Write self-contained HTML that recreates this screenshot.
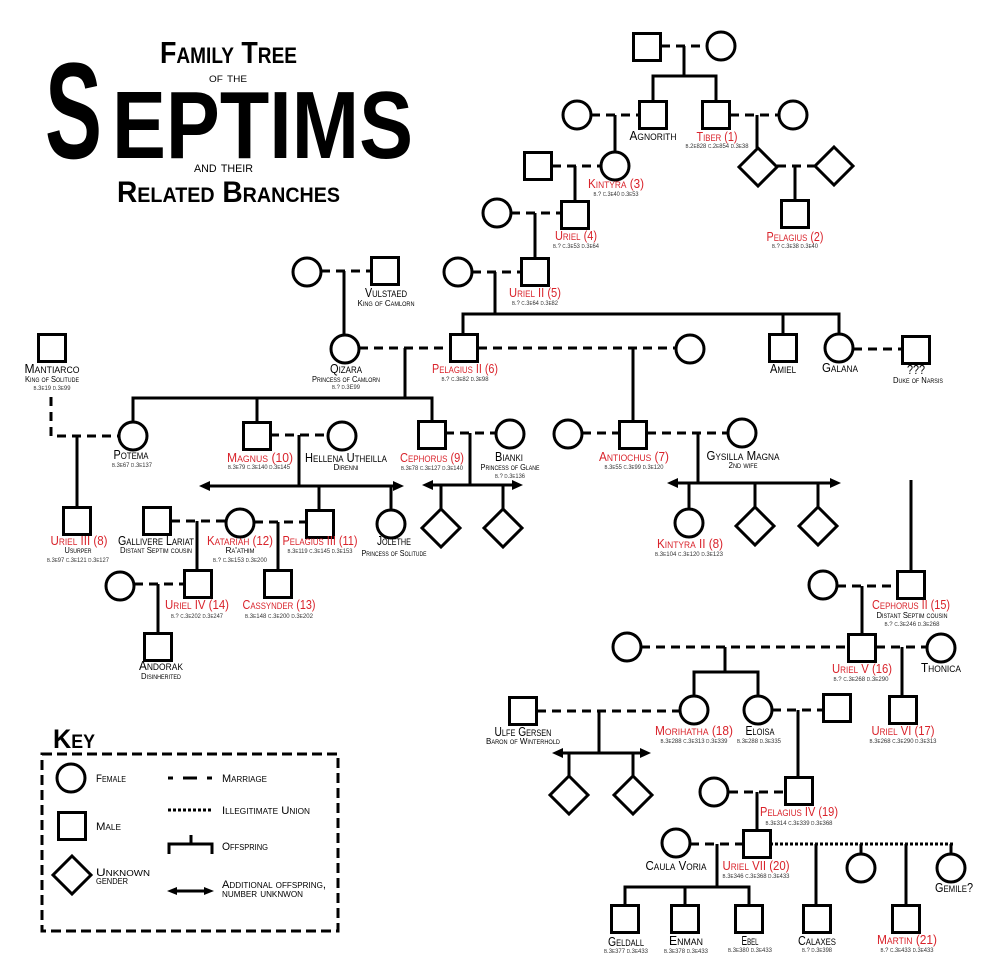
<!DOCTYPE html>
<html><head><meta charset="utf-8"><style>
html,body{margin:0;padding:0;background:#fff;}
svg{display:block;}
.s{fill:#fff;stroke:#000;stroke-width:3;}
.l{fill:none;stroke:#000;stroke-width:3;}
.m{fill:none;stroke:#000;stroke-width:3;stroke-dasharray:9 6;}
.dt{fill:none;stroke:#000;stroke-width:3;stroke-dasharray:3 2;}
text{font-family:"Liberation Sans",sans-serif;font-variant:small-caps;fill:#000;}
.n{font-size:12.5px;text-anchor:middle;}
.r{fill:#d9232b;}
.d{font-size:6.5px;text-anchor:middle;fill:#333;}
.t{font-size:8.5px;text-anchor:middle;}
.k{font-size:11px;}
</style></head><body>
<svg width="1000" height="969" viewBox="0 0 1000 969" xmlns="http://www.w3.org/2000/svg">
<rect width="1000" height="969" fill="#fff"/>

<!-- Title -->
<text x="160" y="63" font-size="31" font-weight="bold" textLength="137" lengthAdjust="spacingAndGlyphs">Family Tree</text>
<text x="209" y="82" font-size="13.5" textLength="38" lengthAdjust="spacingAndGlyphs">of the</text>
<text x="45" y="158" font-size="137" font-weight="bold" textLength="57" lengthAdjust="spacingAndGlyphs">S</text>
<text x="112" y="158" font-size="96" font-weight="bold" textLength="301" lengthAdjust="spacingAndGlyphs">EPTIMS</text>
<text x="194" y="172" font-size="15.5" textLength="59" lengthAdjust="spacingAndGlyphs">and their</text>
<text x="117" y="202" font-size="30" font-weight="bold" textLength="223" lengthAdjust="spacingAndGlyphs">Related Branches</text>

<!-- Marriage lines -->
<g class="m">
<path d="M661 46H707"/>
<path d="M591 115H639"/>
<path d="M730 115H779"/>
<path d="M552 166H601"/>
<path d="M511 213H562"/>
<path d="M777 166H815"/>
<path d="M321 271H371"/>
<path d="M472 272H521"/>
<path d="M359 348H451"/>
<path d="M478 348H676"/>
<path d="M853 349H902"/>
<path d="M51 397V436H119"/>
<path d="M270 435H328"/>
<path d="M445 433H496"/>
<path d="M582 433H619"/>
<path d="M647 433H728"/>
<path d="M171 521H226"/>
<path d="M254 522H306"/>
<path d="M134 584H184"/>
<path d="M837 586H898"/>
<path d="M641 647H848"/>
<path d="M876 647H927"/>
<path d="M537 711H680"/>
<path d="M772 710H823"/>
<path d="M729 792H786"/>
<path d="M690 844H743"/>
</g>
<path class="dt" d="M770 844H953"/>
<path class="l" d="M861 844V854M951 844V854"/>

<!-- Offspring lines -->
<g class="l">
<path d="M684 46V76M653 101V76H716V101"/>
<path d="M615 115V152"/>
<path d="M575 166V201"/>
<path d="M535 213V258"/>
<path d="M757 115V148"/>
<path d="M795 166V200"/>
<path d="M344 271V335"/>
<path d="M495 272V314M463 334V314H839V334M783 314V334"/>
<path d="M405 348V398M133 422V398H432V421M257 398V422"/>
<path d="M633 348V421"/>
<path d="M77 436V507"/>
<path d="M299 435V486M205 486H398M319 486V510M391 486V510"/>
<path d="M470 433V485M428 485H517M441 485V509M503 485V509"/>
<path d="M698 433V483M673 483H835M689 483V509M755 483V507M818 483V507"/>
<path d="M197 521V570"/>
<path d="M278 522V570"/>
<path d="M158 584V633"/>
<path d="M911 480V571"/>
<path d="M862 586V634"/>
<path d="M725 647V672M694 696V672H758V696"/>
<path d="M902 647V696"/>
<path d="M599 711V753M558 753H645M569 753V776M633 753V776"/>
<path d="M798 710V777"/>
<path d="M757 792V830"/>
<path d="M717 844V887M625 905V887H749V905M685 887V905"/>
<path d="M816 844V905M906 844V905"/>
</g>
<!-- Arrowheads -->
<g fill="#000">
<polygon points="199,486 210,481 210,491"/><polygon points="404,486 393,481 393,491"/>
<polygon points="422,485 433,480 433,490"/><polygon points="523,485 512,480 512,490"/>
<polygon points="667,483 678,478 678,488"/><polygon points="841,483 830,478 830,488"/>
<polygon points="552,753 563,748 563,758"/><polygon points="651,753 640,748 640,758"/>
</g>

<!-- Squares -->
<g class="s">
<rect x="633.5" y="33.5" width="27" height="27"/>
<rect x="639.5" y="101.5" width="27" height="27"/>
<rect x="702.5" y="101.5" width="27" height="27"/>
<rect x="524.5" y="152.5" width="27" height="27"/>
<rect x="561.5" y="201.5" width="27" height="27"/>
<rect x="781.5" y="200.5" width="27" height="27"/>
<rect x="371.5" y="257.5" width="27" height="27"/>
<rect x="521.5" y="258.5" width="27" height="27"/>
<rect x="450.5" y="334.5" width="27" height="27"/>
<rect x="769.5" y="334.5" width="27" height="27"/>
<rect x="902.5" y="336.5" width="27" height="27"/>
<rect x="38.5" y="334.5" width="27" height="27"/>
<rect x="243.5" y="422.5" width="27" height="27"/>
<rect x="418.5" y="421.5" width="27" height="27"/>
<rect x="619.5" y="421.5" width="27" height="27"/>
<rect x="63.5" y="507.5" width="27" height="27"/>
<rect x="143.5" y="507.5" width="27" height="27"/>
<rect x="306.5" y="510.5" width="27" height="27"/>
<rect x="184.5" y="570.5" width="27" height="27"/>
<rect x="264.5" y="570.5" width="27" height="27"/>
<rect x="144.5" y="633.5" width="27" height="27"/>
<rect x="897.5" y="571.5" width="27" height="27"/>
<rect x="848.5" y="634.5" width="27" height="27"/>
<rect x="823.5" y="694.5" width="27" height="27"/>
<rect x="889.5" y="696.5" width="27" height="27"/>
<rect x="509.5" y="697.5" width="27" height="27"/>
<rect x="785.5" y="777.5" width="27" height="27"/>
<rect x="743.5" y="830.5" width="27" height="27"/>
<rect x="611.5" y="905.5" width="27" height="27"/>
<rect x="671.5" y="905.5" width="27" height="27"/>
<rect x="735.5" y="905.5" width="27" height="27"/>
<rect x="803.5" y="905.5" width="27" height="27"/>
<rect x="892.5" y="905.5" width="27" height="27"/>
<rect x="58.5" y="812.5" width="27" height="27"/>
</g>

<!-- Circles -->
<g class="s">
<circle cx="721" cy="46" r="14"/>
<circle cx="577" cy="115" r="14"/>
<circle cx="793" cy="115" r="14"/>
<circle cx="615" cy="166" r="14"/>
<circle cx="497" cy="213" r="14"/>
<circle cx="307" cy="272" r="14"/>
<circle cx="458" cy="272" r="14"/>
<circle cx="345" cy="349" r="14"/>
<circle cx="690" cy="349" r="14"/>
<circle cx="839" cy="348" r="14"/>
<circle cx="133" cy="436" r="14"/>
<circle cx="342" cy="436" r="14"/>
<circle cx="510" cy="434" r="14"/>
<circle cx="568" cy="434" r="14"/>
<circle cx="742" cy="433" r="14"/>
<circle cx="240" cy="523" r="14"/>
<circle cx="391" cy="524" r="14"/>
<circle cx="689" cy="523" r="14"/>
<circle cx="120" cy="586" r="14"/>
<circle cx="823" cy="585" r="14"/>
<circle cx="627" cy="647" r="14"/>
<circle cx="941" cy="648" r="14"/>
<circle cx="694" cy="710" r="14"/>
<circle cx="758" cy="710" r="14"/>
<circle cx="714" cy="792" r="14"/>
<circle cx="676" cy="843" r="14"/>
<circle cx="861" cy="868" r="14"/>
<circle cx="951" cy="868" r="14"/>
<circle cx="71" cy="778" r="14"/>
</g>

<!-- Diamonds -->
<g class="s">
<polygon points="758,148 777,167 758,186 739,167"/>
<polygon points="834,147 853,166 834,185 815,166"/>
<polygon points="441,509 460,528 441,547 422,528"/>
<polygon points="503,509 522,528 503,547 484,528"/>
<polygon points="755,507 774,526 755,545 736,526"/>
<polygon points="818,507 837,526 818,545 799,526"/>
<polygon points="569,776 588,795 569,814 550,795"/>
<polygon points="633,776 652,795 633,814 614,795"/>
<polygon points="72,856 91,875 72,894 53,875"/>
</g>

<!-- Labels -->
<g lengthAdjust="spacingAndGlyphs">
<text class="n" x="653" y="140" textLength="47" lengthAdjust="spacingAndGlyphs">Agnorith</text>
<text class="n r" x="717" y="141" textLength="41" lengthAdjust="spacingAndGlyphs">Tiber (1)</text>
<text class="d" x="717" y="148" textLength="63" lengthAdjust="spacingAndGlyphs">b.2e828 c.2e854 d.3e38</text>
<text class="n r" x="616" y="188" textLength="56" lengthAdjust="spacingAndGlyphs">Kintyra (3)</text>
<text class="d" x="616" y="196" textLength="45" lengthAdjust="spacingAndGlyphs">b.? c.3e40 d.3e53</text>
<text class="n r" x="576" y="240" textLength="42" lengthAdjust="spacingAndGlyphs">Uriel (4)</text>
<text class="d" x="576" y="248" textLength="46" lengthAdjust="spacingAndGlyphs">b.? c.3e53 d.3e64</text>
<text class="n r" x="795" y="241" textLength="57" lengthAdjust="spacingAndGlyphs">Pelagius (2)</text>
<text class="d" x="795" y="248" textLength="46" lengthAdjust="spacingAndGlyphs">b.? c.3e38 d.3e40</text>

<text class="n" x="386" y="297" textLength="42" lengthAdjust="spacingAndGlyphs">Vulstaed</text>
<text class="t" x="386" y="306" textLength="57" lengthAdjust="spacingAndGlyphs">King of Camlorn</text>
<text class="n r" x="535" y="297" textLength="52" lengthAdjust="spacingAndGlyphs">Uriel II (5)</text>
<text class="d" x="535" y="305" textLength="46" lengthAdjust="spacingAndGlyphs">b.? c.3e64 d.3e82</text>

<text class="n" x="346" y="373" textLength="32" lengthAdjust="spacingAndGlyphs">Qizara</text>
<text class="t" x="346" y="382" textLength="68" lengthAdjust="spacingAndGlyphs">Princess of Camlorn</text>
<text class="d" x="346" y="389" textLength="28" lengthAdjust="spacingAndGlyphs">b.? d.3E99</text>
<text class="n r" x="465" y="373" textLength="66" lengthAdjust="spacingAndGlyphs">Pelagius II (6)</text>
<text class="d" x="465" y="381" textLength="47" lengthAdjust="spacingAndGlyphs">b.? c.3e82 d.3e98</text>
<text class="n" x="783" y="373" textLength="26" lengthAdjust="spacingAndGlyphs">Amiel</text>
<text class="n" x="840" y="372" textLength="36" lengthAdjust="spacingAndGlyphs">Galana</text>
<text class="n" x="916" y="374" textLength="18" lengthAdjust="spacingAndGlyphs">???</text>
<text class="t" x="918" y="383" textLength="50" lengthAdjust="spacingAndGlyphs">Duke of Narsis</text>

<text class="n" x="52" y="373" textLength="55" lengthAdjust="spacingAndGlyphs">Mantiarco</text>
<text class="t" x="52" y="382" textLength="54" lengthAdjust="spacingAndGlyphs">King of Solitude</text>
<text class="d" x="52" y="390" textLength="37" lengthAdjust="spacingAndGlyphs">b.3e19 d.3e99</text>

<text class="n" x="131" y="459" textLength="35" lengthAdjust="spacingAndGlyphs">Potema</text>
<text class="d" x="132" y="467" textLength="40" lengthAdjust="spacingAndGlyphs">b.3e67 d.3e137</text>
<text class="n r" x="260" y="462" textLength="66" lengthAdjust="spacingAndGlyphs">Magnus (10)</text>
<text class="d" x="259" y="469" textLength="62" lengthAdjust="spacingAndGlyphs">b.3e79 c.3e140 d.3e145</text>
<text class="n" x="346" y="462" textLength="82" lengthAdjust="spacingAndGlyphs">Hellena Utheilla</text>
<text class="t" x="346" y="470" textLength="25" lengthAdjust="spacingAndGlyphs">Direnni</text>
<text class="n r" x="432" y="462" textLength="64" lengthAdjust="spacingAndGlyphs">Cephorus (9)</text>
<text class="d" x="432" y="470" textLength="62" lengthAdjust="spacingAndGlyphs">b.3e78 c.3e127 d.3e140</text>
<text class="n" x="509" y="461" textLength="28" lengthAdjust="spacingAndGlyphs">Bianki</text>
<text class="t" x="510" y="470" textLength="59" lengthAdjust="spacingAndGlyphs">Princess of Glane</text>
<text class="d" x="510" y="478" textLength="30" lengthAdjust="spacingAndGlyphs">b.? d.3e136</text>
<text class="n r" x="634" y="461" textLength="70" lengthAdjust="spacingAndGlyphs">Antiochus (7)</text>
<text class="d" x="634" y="469" textLength="59" lengthAdjust="spacingAndGlyphs">b.3e55 c.3e99 d.3e120</text>
<text class="n" x="743" y="460" textLength="73" lengthAdjust="spacingAndGlyphs">Gysilla Magna</text>
<text class="t" x="743" y="468" textLength="29" lengthAdjust="spacingAndGlyphs">2nd wife</text>
<text class="n r" x="690" y="548" textLength="66" lengthAdjust="spacingAndGlyphs">Kintyra II (8)</text>
<text class="d" x="689" y="556" textLength="68" lengthAdjust="spacingAndGlyphs">b.3e104 c.3e120 d.3e123</text>

<text class="n r" x="79" y="545" textLength="57" lengthAdjust="spacingAndGlyphs">Uriel III (8)</text>
<text class="t" x="78" y="553" textLength="27" lengthAdjust="spacingAndGlyphs">Usurper</text>
<text class="d" x="78" y="562" textLength="62" lengthAdjust="spacingAndGlyphs">b.3e97 c.3e121 d.3e127</text>
<text class="n" x="156" y="545" textLength="76" lengthAdjust="spacingAndGlyphs">Gallivere Lariat</text>
<text class="t" x="156" y="553" textLength="72" lengthAdjust="spacingAndGlyphs">Distant Septim cousin</text>
<text class="n r" x="240" y="545" textLength="66" lengthAdjust="spacingAndGlyphs">Katariah (12)</text>
<text class="t" x="240" y="553" textLength="29" lengthAdjust="spacingAndGlyphs">Ra'athim</text>
<text class="d" x="240" y="562" textLength="54" lengthAdjust="spacingAndGlyphs">b.? c.3e153 d.3e200</text>
<text class="n r" x="320" y="545" textLength="75" lengthAdjust="spacingAndGlyphs">Pelagius III (11)</text>
<text class="d" x="320" y="553" textLength="65" lengthAdjust="spacingAndGlyphs">b.3e119 c.3e145 d.3e153</text>
<text class="n" x="394" y="545" textLength="34" lengthAdjust="spacingAndGlyphs">Jolethe</text>
<text class="t" x="394" y="556" textLength="65" lengthAdjust="spacingAndGlyphs">Princess of Solitude</text>
<text class="n r" x="197" y="609" textLength="64" lengthAdjust="spacingAndGlyphs">Uriel IV (14)</text>
<text class="d" x="197" y="618" textLength="52" lengthAdjust="spacingAndGlyphs">b.? c.3e202 d.3e247</text>
<text class="n r" x="279" y="609" textLength="73" lengthAdjust="spacingAndGlyphs">Cassynder (13)</text>
<text class="d" x="279" y="618" textLength="68" lengthAdjust="spacingAndGlyphs">b.3e148 c.3e200 d.3e202</text>
<text class="n" x="161" y="670" textLength="44" lengthAdjust="spacingAndGlyphs">Andorak</text>
<text class="t" x="161" y="679" textLength="40" lengthAdjust="spacingAndGlyphs">Disinherited</text>

<text class="n r" x="911" y="609" textLength="78" lengthAdjust="spacingAndGlyphs">Cephorus II (15)</text>
<text class="t" x="912" y="618" textLength="71" lengthAdjust="spacingAndGlyphs">Distant Septim cousin</text>
<text class="d" x="912" y="626" textLength="55" lengthAdjust="spacingAndGlyphs">b.? c.3e246 d.3e268</text>
<text class="n r" x="862" y="673" textLength="60" lengthAdjust="spacingAndGlyphs">Uriel V (16)</text>
<text class="d" x="861" y="681" textLength="55" lengthAdjust="spacingAndGlyphs">b.? c.3e268 d.3e290</text>
<text class="n" x="941" y="672" textLength="40" lengthAdjust="spacingAndGlyphs">Thonica</text>
<text class="n" x="523" y="736" textLength="57" lengthAdjust="spacingAndGlyphs">Ulfe Gersen</text>
<text class="t" x="523" y="744" textLength="74" lengthAdjust="spacingAndGlyphs">Baron of Winterhold</text>
<text class="n r" x="694" y="735" textLength="78" lengthAdjust="spacingAndGlyphs">Morihatha (18)</text>
<text class="d" x="694" y="743" textLength="67" lengthAdjust="spacingAndGlyphs">b.3e288 c.3e313 d.3e339</text>
<text class="n" x="760" y="735" textLength="29" lengthAdjust="spacingAndGlyphs">Eloisa</text>
<text class="d" x="759" y="743" textLength="44" lengthAdjust="spacingAndGlyphs">b.3e288 d.3e335</text>
<text class="n r" x="903" y="735" textLength="63" lengthAdjust="spacingAndGlyphs">Uriel VI (17)</text>
<text class="d" x="903" y="743" textLength="67" lengthAdjust="spacingAndGlyphs">b.3e268 c.3e290 d.3e313</text>
<text class="n r" x="799" y="816" textLength="78" lengthAdjust="spacingAndGlyphs">Pelagius IV (19)</text>
<text class="d" x="799" y="825" textLength="67" lengthAdjust="spacingAndGlyphs">b.3e314 c.3e339 d.3e368</text>
<text class="n" x="676" y="870" textLength="61" lengthAdjust="spacingAndGlyphs">Caula Voria</text>
<text class="n r" x="756" y="870" textLength="67" lengthAdjust="spacingAndGlyphs">Uriel VII (20)</text>
<text class="d" x="756" y="878" textLength="67" lengthAdjust="spacingAndGlyphs">b.3e346 c.3e368 d.3e433</text>
<text class="n" x="954" y="892" textLength="38" lengthAdjust="spacingAndGlyphs">Gemile?</text>
<text class="n" x="626" y="946" textLength="36" lengthAdjust="spacingAndGlyphs">Geldall</text>
<text class="d" x="626" y="953" textLength="44" lengthAdjust="spacingAndGlyphs">b.3e377 d.3e433</text>
<text class="n" x="686" y="945" textLength="34" lengthAdjust="spacingAndGlyphs">Enman</text>
<text class="d" x="686" y="953" textLength="44" lengthAdjust="spacingAndGlyphs">b.3e378 d.3e433</text>
<text class="n" x="750" y="945" textLength="17" lengthAdjust="spacingAndGlyphs">Ebel</text>
<text class="d" x="750" y="952" textLength="44" lengthAdjust="spacingAndGlyphs">b.3e380 d.3e433</text>
<text class="n" x="817" y="945" textLength="38" lengthAdjust="spacingAndGlyphs">Calaxes</text>
<text class="d" x="817" y="952" textLength="30" lengthAdjust="spacingAndGlyphs">b.? d.3e398</text>
<text class="n r" x="907" y="944" textLength="60" lengthAdjust="spacingAndGlyphs">Martin (21)</text>
<text class="d" x="907" y="952" textLength="53" lengthAdjust="spacingAndGlyphs">b.? c.3e433 d.3e433</text>
</g>

<!-- Key -->
<text x="53" y="748" font-size="27" font-weight="bold" textLength="42" lengthAdjust="spacingAndGlyphs">Key</text>
<rect x="42" y="754" width="296" height="177" fill="none" stroke="#000" stroke-width="3" stroke-dasharray="10 5"/>
<path class="l" d="M168 778H173M183 778H197M207 778H212"/>
<path class="dt" d="M168 810H213"/>
<path class="l" d="M169 854V844H212V854M191 844V835"/>
<path class="l" d="M174 891H207"/>
<polygon points="167,891 177,887 177,895" fill="#000"/>
<polygon points="214,891 204,887 204,895" fill="#000"/>
<text class="k" x="96" y="782" textLength="30" lengthAdjust="spacingAndGlyphs">Female</text>
<text class="k" x="96" y="830" textLength="25" lengthAdjust="spacingAndGlyphs">Male</text>
<text class="k" x="96" y="876" textLength="54" lengthAdjust="spacingAndGlyphs">Unknown</text>
<text class="k" x="96" y="884" textLength="32" lengthAdjust="spacingAndGlyphs">gender</text>
<text class="k" x="222" y="782" textLength="45" lengthAdjust="spacingAndGlyphs">Marriage</text>
<text class="k" x="222" y="814" textLength="88" lengthAdjust="spacingAndGlyphs">Illegitimate Union</text>
<text class="k" x="222" y="850" textLength="46" lengthAdjust="spacingAndGlyphs">Offspring</text>
<text class="k" x="222" y="888" textLength="104" lengthAdjust="spacingAndGlyphs">Additional offspring,</text>
<text class="k" x="222" y="897" textLength="81" lengthAdjust="spacingAndGlyphs">number unknwon</text>
</svg>
</body></html>
